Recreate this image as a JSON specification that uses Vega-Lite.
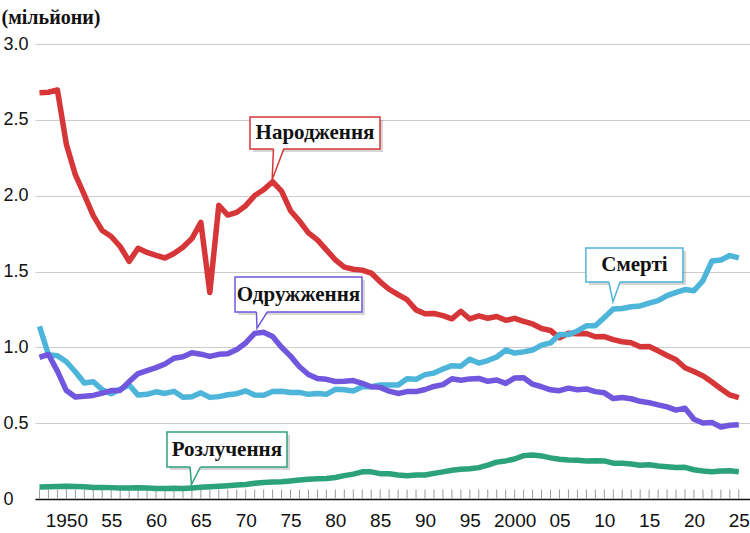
{
  "$schema": "https://vega.github.io/schema/vega-lite/v6.json",
  "width": 715,
  "height": 455,
  "autosize": {"type": "none"},
  "padding": {"left": 35, "top": 44, "right": 0, "bottom": 34},
  "background": "white",
  "config": {
    "view": {"stroke": null},
    "axisX": {
      "labelFont": "Liberation Sans",
      "labelFontSize": 19,
      "labelColor": "#111111",
      "labelPadding": 12,
      "labelOverlap": false,
      "labelFlush": false,
      "labelBound": false,
      "ticks": false,
      "domainColor": "#111111",
      "domainWidth": 1.5,
      "grid": false
    },
    "axisY": {
      "labelFont": "Liberation Sans",
      "labelFontSize": 18,
      "labelColor": "#111111",
      "labelAlign": "left",
      "labelPadding": 32,
      "domain": false,
      "ticks": false,
      "grid": true,
      "gridColor": "#cccccc",
      "gridWidth": 1
    }
  },
  "datasets": {
    "vital": [
      {"year": 1947, "births": 2.679, "deaths": 1.138, "marriages": 0.934, "divorces": 0.079},
      {"year": 1948, "births": 2.682, "deaths": 0.951, "marriages": 0.953, "divorces": 0.080},
      {"year": 1949, "births": 2.697, "deaths": 0.945, "marriages": 0.843, "divorces": 0.082},
      {"year": 1950, "births": 2.338, "deaths": 0.905, "marriages": 0.715, "divorces": 0.084},
      {"year": 1951, "births": 2.138, "deaths": 0.839, "marriages": 0.672, "divorces": 0.082},
      {"year": 1952, "births": 2.005, "deaths": 0.765, "marriages": 0.677, "divorces": 0.080},
      {"year": 1953, "births": 1.868, "deaths": 0.773, "marriages": 0.683, "divorces": 0.076},
      {"year": 1954, "births": 1.770, "deaths": 0.721, "marriages": 0.698, "divorces": 0.076},
      {"year": 1955, "births": 1.731, "deaths": 0.694, "marriages": 0.715, "divorces": 0.075},
      {"year": 1956, "births": 1.665, "deaths": 0.724, "marriages": 0.716, "divorces": 0.073},
      {"year": 1957, "births": 1.567, "deaths": 0.752, "marriages": 0.774, "divorces": 0.072},
      {"year": 1958, "births": 1.653, "deaths": 0.685, "marriages": 0.827, "divorces": 0.074},
      {"year": 1959, "births": 1.626, "deaths": 0.690, "marriages": 0.847, "divorces": 0.072},
      {"year": 1960, "births": 1.606, "deaths": 0.707, "marriages": 0.866, "divorces": 0.070},
      {"year": 1961, "births": 1.589, "deaths": 0.696, "marriages": 0.890, "divorces": 0.070},
      {"year": 1962, "births": 1.619, "deaths": 0.710, "marriages": 0.928, "divorces": 0.071},
      {"year": 1963, "births": 1.660, "deaths": 0.671, "marriages": 0.938, "divorces": 0.070},
      {"year": 1964, "births": 1.717, "deaths": 0.674, "marriages": 0.964, "divorces": 0.073},
      {"year": 1965, "births": 1.824, "deaths": 0.700, "marriages": 0.955, "divorces": 0.077},
      {"year": 1966, "births": 1.361, "deaths": 0.670, "marriages": 0.940, "divorces": 0.080},
      {"year": 1967, "births": 1.936, "deaths": 0.675, "marriages": 0.954, "divorces": 0.084},
      {"year": 1968, "births": 1.872, "deaths": 0.687, "marriages": 0.957, "divorces": 0.088},
      {"year": 1969, "births": 1.890, "deaths": 0.694, "marriages": 0.985, "divorces": 0.092},
      {"year": 1970, "births": 1.934, "deaths": 0.713, "marriages": 1.029, "divorces": 0.096},
      {"year": 1971, "births": 2.001, "deaths": 0.685, "marriages": 1.092, "divorces": 0.104},
      {"year": 1972, "births": 2.039, "deaths": 0.684, "marriages": 1.100, "divorces": 0.109},
      {"year": 1973, "births": 2.092, "deaths": 0.709, "marriages": 1.072, "divorces": 0.112},
      {"year": 1974, "births": 2.030, "deaths": 0.711, "marriages": 1.000, "divorces": 0.114},
      {"year": 1975, "births": 1.901, "deaths": 0.702, "marriages": 0.942, "divorces": 0.119},
      {"year": 1976, "births": 1.833, "deaths": 0.703, "marriages": 0.872, "divorces": 0.125},
      {"year": 1977, "births": 1.755, "deaths": 0.690, "marriages": 0.821, "divorces": 0.130},
      {"year": 1978, "births": 1.709, "deaths": 0.696, "marriages": 0.794, "divorces": 0.133},
      {"year": 1979, "births": 1.643, "deaths": 0.690, "marriages": 0.789, "divorces": 0.135},
      {"year": 1980, "births": 1.577, "deaths": 0.723, "marriages": 0.775, "divorces": 0.142},
      {"year": 1981, "births": 1.529, "deaths": 0.720, "marriages": 0.777, "divorces": 0.154},
      {"year": 1982, "births": 1.515, "deaths": 0.712, "marriages": 0.781, "divorces": 0.164},
      {"year": 1983, "births": 1.509, "deaths": 0.740, "marriages": 0.763, "divorces": 0.179},
      {"year": 1984, "births": 1.490, "deaths": 0.740, "marriages": 0.740, "divorces": 0.179},
      {"year": 1985, "births": 1.432, "deaths": 0.752, "marriages": 0.736, "divorces": 0.167},
      {"year": 1986, "births": 1.383, "deaths": 0.751, "marriages": 0.711, "divorces": 0.166},
      {"year": 1987, "births": 1.347, "deaths": 0.751, "marriages": 0.696, "divorces": 0.158},
      {"year": 1988, "births": 1.314, "deaths": 0.793, "marriages": 0.708, "divorces": 0.154},
      {"year": 1989, "births": 1.247, "deaths": 0.789, "marriages": 0.708, "divorces": 0.158},
      {"year": 1990, "births": 1.222, "deaths": 0.820, "marriages": 0.722, "divorces": 0.158},
      {"year": 1991, "births": 1.223, "deaths": 0.830, "marriages": 0.742, "divorces": 0.169},
      {"year": 1992, "births": 1.209, "deaths": 0.857, "marriages": 0.754, "divorces": 0.179},
      {"year": 1993, "births": 1.188, "deaths": 0.879, "marriages": 0.793, "divorces": 0.189},
      {"year": 1994, "births": 1.238, "deaths": 0.876, "marriages": 0.783, "divorces": 0.196},
      {"year": 1995, "births": 1.187, "deaths": 0.922, "marriages": 0.792, "divorces": 0.199},
      {"year": 1996, "births": 1.207, "deaths": 0.896, "marriages": 0.795, "divorces": 0.207},
      {"year": 1997, "births": 1.192, "deaths": 0.913, "marriages": 0.776, "divorces": 0.223},
      {"year": 1998, "births": 1.203, "deaths": 0.936, "marriages": 0.785, "divorces": 0.243},
      {"year": 1999, "births": 1.178, "deaths": 0.982, "marriages": 0.762, "divorces": 0.251},
      {"year": 2000, "births": 1.191, "deaths": 0.962, "marriages": 0.798, "divorces": 0.264},
      {"year": 2001, "births": 1.171, "deaths": 0.970, "marriages": 0.800, "divorces": 0.286},
      {"year": 2002, "births": 1.154, "deaths": 0.982, "marriages": 0.757, "divorces": 0.290},
      {"year": 2003, "births": 1.124, "deaths": 1.015, "marriages": 0.740, "divorces": 0.284},
      {"year": 2004, "births": 1.111, "deaths": 1.029, "marriages": 0.720, "divorces": 0.271},
      {"year": 2005, "births": 1.063, "deaths": 1.084, "marriages": 0.714, "divorces": 0.262},
      {"year": 2006, "births": 1.093, "deaths": 1.084, "marriages": 0.731, "divorces": 0.257},
      {"year": 2007, "births": 1.090, "deaths": 1.108, "marriages": 0.720, "divorces": 0.255},
      {"year": 2008, "births": 1.091, "deaths": 1.142, "marriages": 0.726, "divorces": 0.251},
      {"year": 2009, "births": 1.070, "deaths": 1.142, "marriages": 0.708, "divorces": 0.253},
      {"year": 2010, "births": 1.071, "deaths": 1.197, "marriages": 0.700, "divorces": 0.251},
      {"year": 2011, "births": 1.051, "deaths": 1.253, "marriages": 0.662, "divorces": 0.236},
      {"year": 2012, "births": 1.037, "deaths": 1.256, "marriages": 0.669, "divorces": 0.235},
      {"year": 2013, "births": 1.030, "deaths": 1.268, "marriages": 0.661, "divorces": 0.231},
      {"year": 2014, "births": 1.004, "deaths": 1.273, "marriages": 0.644, "divorces": 0.222},
      {"year": 2015, "births": 1.006, "deaths": 1.291, "marriages": 0.635, "divorces": 0.226},
      {"year": 2016, "births": 0.977, "deaths": 1.308, "marriages": 0.621, "divorces": 0.217},
      {"year": 2017, "births": 0.946, "deaths": 1.341, "marriages": 0.607, "divorces": 0.212},
      {"year": 2018, "births": 0.918, "deaths": 1.362, "marriages": 0.586, "divorces": 0.208},
      {"year": 2019, "births": 0.865, "deaths": 1.381, "marriages": 0.599, "divorces": 0.209},
      {"year": 2020, "births": 0.841, "deaths": 1.373, "marriages": 0.526, "divorces": 0.193},
      {"year": 2021, "births": 0.812, "deaths": 1.440, "marriages": 0.501, "divorces": 0.184},
      {"year": 2022, "births": 0.771, "deaths": 1.569, "marriages": 0.505, "divorces": 0.180},
      {"year": 2023, "births": 0.727, "deaths": 1.576, "marriages": 0.475, "divorces": 0.184},
      {"year": 2024, "births": 0.686, "deaths": 1.605, "marriages": 0.486, "divorces": 0.186},
      {"year": 2025, "births": 0.668, "deaths": 1.590, "marriages": 0.490, "divorces": 0.180}
    ],
    "callouts": [
      {"series": "births", "text": "Народження", "x1": 1970.48, "x2": 1984.98, "y1": 2.308, "y2": 2.519, "tx": 1977.73, "ty": 2.413},
      {"series": "deaths", "text": "Смерті", "x1": 2007.95, "x2": 2018.77, "y1": 1.431, "y2": 1.655, "tx": 2013.36, "ty": 1.543},
      {"series": "marriages", "text": "Одружження", "x1": 1968.81, "x2": 1982.97, "y1": 1.233, "y2": 1.464, "tx": 1975.89, "ty": 1.348},
      {"series": "divorces", "text": "Розлучення", "x1": 1961.22, "x2": 1974.61, "y1": 0.211, "y2": 0.442, "tx": 1967.9, "ty": 0.326}
    ],
    "pointerFill": [
      {"series": "births", "y": 2.322, "xl": 1973.1, "xr": 1974.27},
      {"series": "births", "y": 2.105, "xl": 1972.95, "xr": 1972.95},
      {"series": "deaths", "y": 1.445, "xl": 2010.47, "xr": 2011.8},
      {"series": "deaths", "y": 1.300, "xl": 2010.97, "xr": 2010.97},
      {"series": "marriages", "y": 1.247, "xl": 1971.2, "xr": 1972.5},
      {"series": "marriages", "y": 1.125, "xl": 1971.26, "xr": 1971.26},
      {"series": "divorces", "y": 0.225, "xl": 1963.79, "xr": 1965.05},
      {"series": "divorces", "y": 0.095, "xl": 1963.95, "xr": 1963.95}
    ],
    "pointerEdge": [
      {"series": "births", "k": 1, "x": 1973.1, "y": 2.308},
      {"series": "births", "k": 2, "x": 1972.95, "y": 2.105},
      {"series": "births", "k": 3, "x": 1974.25, "y": 2.308},
      {"series": "deaths", "k": 1, "x": 2010.5, "y": 1.431},
      {"series": "deaths", "k": 2, "x": 2010.97, "y": 1.300},
      {"series": "deaths", "k": 3, "x": 2011.75, "y": 1.431},
      {"series": "marriages", "k": 1, "x": 1971.2, "y": 1.233},
      {"series": "marriages", "k": 2, "x": 1971.26, "y": 1.125},
      {"series": "marriages", "k": 3, "x": 1972.4, "y": 1.233},
      {"series": "divorces", "k": 1, "x": 1963.8, "y": 0.211},
      {"series": "divorces", "k": 2, "x": 1963.95, "y": 0.095},
      {"series": "divorces", "k": 3, "x": 1964.95, "y": 0.211}
    ]
  },
  "layer": [
    {
      "data": {"name": "vital"},
      "mark": {"type": "tick", "orient": "vertical", "color": "#999999", "opacity": 1, "thickness": 1, "size": 9, "yOffset": -5},
      "encoding": {
        "x": {
          "field": "year",
          "type": "quantitative",
          "scale": {"domain": [1946.5, 2026.25], "nice": false, "zero": false},
          "axis": {
            "title": null,
            "format": "d",
            "values": [1950, 1955, 1960, 1965, 1970, 1975, 1980, 1985, 1990, 1995, 2000, 2005, 2010, 2015, 2020, 2025],
            "labelExpr": "(datum.value == 1950 || datum.value == 2000) ? datum.label : slice(datum.label, 2)"
          }
        },
        "y": {"datum": 0, "type": "quantitative"}
      }
    },
    {
      "data": {"name": "vital"},
      "transform": [
        {"fold": ["births", "deaths", "marriages", "divorces"], "as": ["series", "value"]}
      ],
      "mark": {"type": "line", "strokeWidth": 5.5, "strokeJoin": "round", "strokeCap": "butt"},
      "encoding": {
        "x": {"field": "year", "type": "quantitative"},
        "y": {
          "field": "value",
          "type": "quantitative",
          "scale": {"domain": [0, 3], "nice": false},
          "axis": {
            "values": [0, 0.5, 1, 1.5, 2, 2.5, 3],
            "labelExpr": "datum.value == 0 ? '0' : format(datum.value, '.1f')",
            "title": "(мільйони)",
            "titleAngle": 0,
            "titleAlign": "left",
            "titleBaseline": "alphabetic",
            "titleX": -34,
            "titleY": -21,
            "titleFont": "Liberation Serif",
            "titleFontSize": 20,
            "titleFontWeight": "bold",
            "titleColor": "#111111"
          }
        },
        "color": {
          "field": "series",
          "type": "nominal",
          "scale": {"domain": ["births", "deaths", "marriages", "divorces"], "range": ["#d63638", "#4db4da", "#7157dd", "#2ca27a"]},
          "legend": null
        }
      }
    },
    {
      "data": {"name": "callouts"},
      "mark": {"type": "rect", "fill": "#000000", "opacity": 0.16, "xOffset": 3, "x2Offset": 3, "yOffset": 3, "y2Offset": 3},
      "encoding": {
        "x": {"field": "x1", "type": "quantitative"},
        "x2": {"field": "x2"},
        "y": {"field": "y1", "type": "quantitative"},
        "y2": {"field": "y2"}
      }
    },
    {
      "data": {"name": "callouts"},
      "mark": {"type": "rect", "fill": "#ffffff", "strokeWidth": 1.5},
      "encoding": {
        "x": {"field": "x1", "type": "quantitative"},
        "x2": {"field": "x2"},
        "y": {"field": "y1", "type": "quantitative"},
        "y2": {"field": "y2"},
        "stroke": {
          "field": "series",
          "type": "nominal",
          "scale": {"domain": ["births", "deaths", "marriages", "divorces"], "range": ["#d63638", "#4db4da", "#7157dd", "#2ca27a"]},
          "legend": null
        }
      }
    },
    {
      "data": {"name": "pointerFill"},
      "mark": {"type": "area", "orient": "horizontal", "fill": "#ffffff", "opacity": 1},
      "encoding": {
        "y": {"field": "y", "type": "quantitative"},
        "x": {"field": "xl", "type": "quantitative"},
        "x2": {"field": "xr"},
        "detail": {"field": "series", "type": "nominal"}
      }
    },
    {
      "data": {"name": "pointerEdge"},
      "mark": {"type": "line", "strokeWidth": 1.5, "strokeJoin": "miter"},
      "encoding": {
        "x": {"field": "x", "type": "quantitative"},
        "y": {"field": "y", "type": "quantitative"},
        "order": {"field": "k", "type": "quantitative"},
        "color": {"field": "series", "type": "nominal", "legend": null}
      }
    },
    {
      "data": {"name": "callouts"},
      "mark": {"type": "text", "font": "Liberation Serif", "fontSize": 21, "fontWeight": "bold", "fill": "#111111", "align": "center", "baseline": "middle"},
      "encoding": {
        "x": {"field": "tx", "type": "quantitative"},
        "y": {"field": "ty", "type": "quantitative"},
        "text": {"field": "text"}
      }
    }
  ]
}
